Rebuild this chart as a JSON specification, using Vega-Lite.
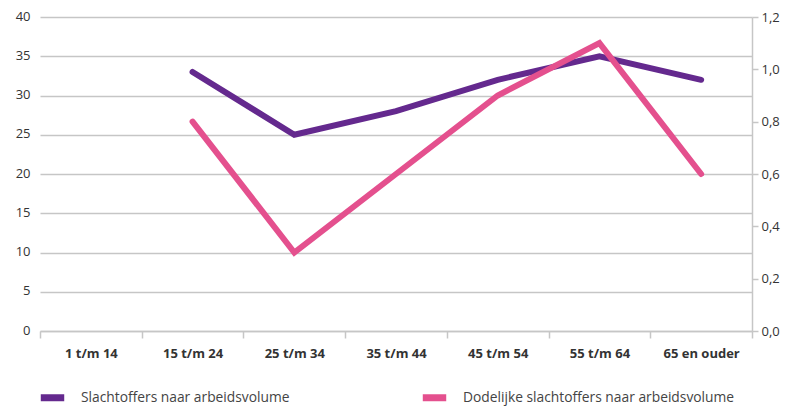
{
  "$schema": "https://vega.github.io/schema/vega-lite/v6.json",
  "width": 712,
  "height": 314,
  "autosize": {"type": "none"},
  "padding": {"left": 40, "top": 17, "right": 35, "bottom": 78},
  "background": "white",
  "data": {
    "values": [
      {"leeftijd": "15 t/m 24", "serie": "Slachtoffers naar arbeidsvolume", "waarde": 33},
      {"leeftijd": "25 t/m 34", "serie": "Slachtoffers naar arbeidsvolume", "waarde": 25},
      {"leeftijd": "35 t/m 44", "serie": "Slachtoffers naar arbeidsvolume", "waarde": 28},
      {"leeftijd": "45 t/m 54", "serie": "Slachtoffers naar arbeidsvolume", "waarde": 32},
      {"leeftijd": "55 t/m 64", "serie": "Slachtoffers naar arbeidsvolume", "waarde": 35},
      {"leeftijd": "65 en ouder", "serie": "Slachtoffers naar arbeidsvolume", "waarde": 32},
      {"leeftijd": "15 t/m 24", "serie": "Dodelijke slachtoffers naar arbeidsvolume", "waarde": 0.8},
      {"leeftijd": "25 t/m 34", "serie": "Dodelijke slachtoffers naar arbeidsvolume", "waarde": 0.3},
      {"leeftijd": "35 t/m 44", "serie": "Dodelijke slachtoffers naar arbeidsvolume", "waarde": 0.6},
      {"leeftijd": "45 t/m 54", "serie": "Dodelijke slachtoffers naar arbeidsvolume", "waarde": 0.9},
      {"leeftijd": "55 t/m 64", "serie": "Dodelijke slachtoffers naar arbeidsvolume", "waarde": 1.1},
      {"leeftijd": "65 en ouder", "serie": "Dodelijke slachtoffers naar arbeidsvolume", "waarde": 0.6}
    ]
  },
  "encoding": {
    "x": {
      "field": "leeftijd",
      "type": "ordinal",
      "bandPosition": 0.5,
      "sort": null,
      "scale": {
        "type": "band",
        "domain": ["1 t/m 14", "15 t/m 24", "25 t/m 34", "35 t/m 44", "45 t/m 54", "55 t/m 64", "65 en ouder"],
        "paddingInner": 0,
        "paddingOuter": 0
      },
      "axis": {
        "title": null,
        "labelAngle": 0,
        "tickBand": "extent",
        "ticks": true,
        "tickSize": 7,
        "tickColor": "#c6c6c6",
        "tickWidth": 1.5,
        "domainColor": "#c6c6c6",
        "domainWidth": 1.5,
        "labelFont": "Open Sans",
        "labelFontWeight": "bold",
        "labelFontSize": 13,
        "labelColor": "#333333",
        "labelPadding": 9,
        "grid": false
      }
    },
    "color": {
      "field": "serie",
      "type": "nominal",
      "scale": {
        "domain": ["Slachtoffers naar arbeidsvolume", "Dodelijke slachtoffers naar arbeidsvolume"],
        "range": ["#64298e", "#e4508e"]
      },
      "legend": {
        "title": null,
        "orient": "none",
        "legendX": -3,
        "legendY": 365,
        "direction": "horizontal",
        "symbolType": "stroke",
        "symbolStrokeWidth": 7,
        "symbolSize": 550,
        "labelFont": "Open Sans",
        "labelFontSize": 13.8,
        "labelColor": "#444444",
        "labelLimit": 400,
        "labelOffset": 13,
        "columnPadding": 118
      }
    }
  },
  "layer": [
    {
      "transform": [{"filter": "datum.serie === 'Slachtoffers naar arbeidsvolume'"}],
      "mark": {"type": "line", "strokeWidth": 6, "strokeCap": "round", "strokeJoin": "miter"},
      "encoding": {
        "y": {
          "field": "waarde",
          "type": "quantitative",
          "scale": {"domain": [0, 40], "nice": false},
          "axis": {
            "title": null,
            "values": [0, 5, 10, 15, 20, 25, 30, 35, 40],
            "domain": false,
            "ticks": false,
            "grid": true,
            "gridColor": "#c6c6c6",
            "gridWidth": 1.5,
            "labelFont": "Open Sans",
            "labelFontSize": 13,
            "labelColor": "#333333",
            "labelPadding": 10,
            "labelBaseline": "bottom",
            "labelOffset": 6
          }
        }
      }
    },
    {
      "transform": [{"filter": "datum.serie === 'Dodelijke slachtoffers naar arbeidsvolume'"}],
      "mark": {"type": "line", "strokeWidth": 6, "strokeCap": "round", "strokeJoin": "miter"},
      "encoding": {
        "y": {
          "field": "waarde",
          "type": "quantitative",
          "scale": {"domain": [0, 1.2], "nice": false},
          "axis": {
            "title": null,
            "orient": "right",
            "values": [0, 0.2, 0.4, 0.6, 0.8, 1.0, 1.2],
            "labelExpr": "replace(format(datum.value, '.1f'), '.', ',')",
            "grid": false,
            "domain": true,
            "domainColor": "#c6c6c6",
            "domainWidth": 1.5,
            "ticks": true,
            "tickSize": 6,
            "tickColor": "#c6c6c6",
            "tickWidth": 1.5,
            "labelFont": "Open Sans",
            "labelFontSize": 13,
            "labelColor": "#333333",
            "labelPadding": 3
          }
        }
      }
    }
  ],
  "resolve": {"scale": {"y": "independent"}},
  "config": {"view": {"stroke": null}}
}
